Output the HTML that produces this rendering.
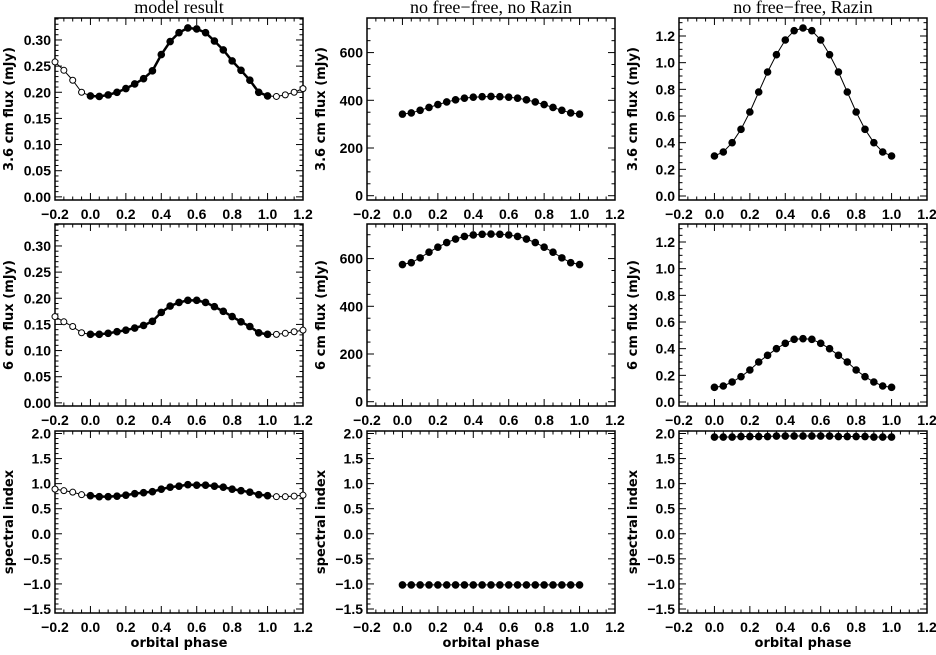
<!DOCTYPE html>
<html><head><meta charset="utf-8"><style>
body{margin:0;background:#fff;width:936px;height:650px;overflow:hidden}
svg text{font-family:"Liberation Sans",sans-serif;font-weight:bold;fill:#000}
</style></head><body>
<svg id="fig" width="936" height="650" viewBox="0 0 936 650" xmlns="http://www.w3.org/2000/svg"></svg>
<script>
// ---- data ----
const phaseFull = [-0.2,-0.15,-0.1,-0.05,0,0.05,0.1,0.15,0.2,0.25,0.3,0.35,0.4,0.45,0.5,0.55,0.6,0.65,0.7,0.75,0.8,0.85,0.9,0.95,1.0,1.05,1.1,1.15,1.2];
const phase = [0,0.05,0.1,0.15,0.2,0.25,0.3,0.35,0.4,0.45,0.5,0.55,0.6,0.65,0.7,0.75,0.8,0.85,0.9,0.95,1.0];
const model36 = [0.258,0.242,0.223,0.200,0.193,0.192,0.195,0.200,0.207,0.216,0.226,0.241,0.272,0.297,0.314,0.323,0.321,0.314,0.298,0.281,0.260,0.242,0.223,0.200,0.193,0.192,0.195,0.200,0.207];
const model6 = [0.165,0.155,0.146,0.134,0.131,0.131,0.133,0.136,0.139,0.143,0.148,0.156,0.173,0.185,0.192,0.196,0.196,0.192,0.184,0.175,0.165,0.155,0.146,0.134,0.131,0.131,0.133,0.136,0.139];
const modelIdx = [0.89,0.86,0.83,0.78,0.76,0.74,0.74,0.75,0.77,0.80,0.82,0.84,0.89,0.93,0.95,0.98,0.97,0.97,0.95,0.93,0.89,0.86,0.83,0.78,0.76,0.74,0.74,0.75,0.77];
const noffNoR36 = [342,347,358,370,382,393,402,409,413,415,416,415,413,409,402,393,382,370,358,347,342];
const noffNoR6 = [575,583,603,627,648,667,682,693,699,702,703,702,699,693,682,667,648,627,603,583,575];
const noffNoRIdx = [-1.02,-1.02,-1.02,-1.02,-1.02,-1.02,-1.02,-1.02,-1.02,-1.02,-1.02,-1.02,-1.02,-1.02,-1.02,-1.02,-1.02,-1.02,-1.02,-1.02,-1.02];
const noffR36 = [0.30,0.33,0.40,0.50,0.63,0.78,0.93,1.06,1.17,1.24,1.26,1.24,1.17,1.06,0.93,0.78,0.63,0.50,0.40,0.33,0.30];
const noffR6 = [0.11,0.12,0.15,0.19,0.24,0.30,0.35,0.40,0.44,0.47,0.475,0.47,0.44,0.40,0.35,0.30,0.24,0.19,0.15,0.12,0.11];
const noffRIdx = [1.93,1.93,1.93,1.94,1.94,1.94,1.94,1.95,1.95,1.95,1.95,1.95,1.95,1.95,1.94,1.94,1.94,1.94,1.93,1.93,1.93];
const xTicks = ["-0.2","0.0","0.2","0.4","0.6","0.8","1.0","1.2"];
const yTicksModel = ["0.00","0.05","0.10","0.15","0.20","0.25","0.30"];
const yTicksMjy = ["0","200","400","600"];
const yTicksRazin = ["0.0","0.2","0.4","0.6","0.8","1.0","1.2"];
const yTicksIdx = ["-1.5","-1.0","-0.5","0.0","0.5","1.0","1.5","2.0"];
const titles = ["model result","no free\u2212free, no Razin","no free\u2212free, Razin"];

const NS="http://www.w3.org/2000/svg";
const svg=document.getElementById('fig');
function mk(tag,attrs,parent){const e=document.createElementNS(NS,tag);for(const k in attrs)e.setAttribute(k,attrs[k]);(parent||svg).appendChild(e);return e;}
const colX=[55,367,679], W=248, rowY=[18,224,431], H=182;
const yr=[[-0.006,0.342],[-18,745],[-0.03,1.335]];
const yrIdx=[-1.58,2.05];

function panel(c,r,ymin,ymax,yt,yminor,ylabel,data){
  const g=mk('g',{});
  
  
  const x0=colX[c],y0=rowY[r];
  const sx=v=>x0+(v+0.2)/1.4*W;
  const sy=v=>y0+H-(v-ymin)/(ymax-ymin)*H;
  mk('rect',{x:x0,y:y0,width:W,height:H,fill:'none',stroke:'#000','stroke-width':1.5},g);
  for(let i=0;i<=28;i++){const v=-0.2+i*0.05;const X=sx(v);const L=(i%4==0)?7:3.5;
    mk('line',{x1:X,y1:y0+H,x2:X,y2:y0+H-L,stroke:'#000'},g);
    mk('line',{x1:X,y1:y0,x2:X,y2:y0+L,stroke:'#000'},g);}
  xTicks.forEach(t=>{const v=parseFloat(t);const tx=mk('text',{x:sx(v),y:y0+H+19,'font-size':14,'text-anchor':'middle'},g);tx.textContent=t.replace('-','\u2212');
    });
  const step=parseFloat(yt[1])-parseFloat(yt[0]);const ms=step/yminor;
  for(let v=parseFloat(yt[0])-step;v<=ymax+1e-9;v+=ms){if(v<ymin-1e-9)continue;const Y=sy(v);
    const k=Math.round((v-parseFloat(yt[0]))/ms);const L=(k%yminor==0)?7:3.5;
    mk('line',{x1:x0,y1:Y,x2:x0+L,y2:Y,stroke:'#000'},g);
    mk('line',{x1:x0+W,y1:Y,x2:x0+W-L,y2:Y,stroke:'#000'},g);}
  yt.forEach(t=>{const v=parseFloat(t);const tx=mk('text',{x:x0-4,y:sy(v)+5,'font-size':14,'text-anchor':'end'},g);tx.textContent=t.replace('-','\u2212');
    });
  const yl=mk('text',{x:0,y:0,'font-size':13,'text-anchor':'middle',style:'font-family:"DejaVu Sans",sans-serif',transform:`translate(${x0-42},${y0+H/2}) rotate(-90)`},g);yl.textContent=ylabel;
  
  if(r==0){const tt=mk('text',{x:x0+W/2,y:13,'font-size':18,'text-anchor':'middle',style:'font-family:"Liberation Serif",serif;font-weight:normal'},g);tt.textContent=titles[c];
    }
  if(r==2){const xl=mk('text',{x:x0+W/2,y:y0+H+34,'font-size':13,'text-anchor':'middle',style:'font-family:"DejaVu Sans",sans-serif'},g);xl.textContent='orbital phase';
    }
  const xs=data.x, ys=data.y;
  mk('polyline',{points:xs.map((v,i)=>sx(v)+','+sy(ys[i])).join(' '),fill:'none',stroke:'#000','stroke-width':1},g);
  if(data.full){
    const inner=xs.map((v,i)=>[v,ys[i]]).filter(p=>p[0]>=-1e-9&&p[0]<=1+1e-9);
    mk('polyline',{points:inner.map(p=>sx(p[0])+','+sy(p[1])).join(' '),fill:'none',stroke:'#000','stroke-width':2.5},g);
  }
  xs.forEach((v,i)=>{const hollow=v<-1e-9||v>1+1e-9;
    const m=mk('circle',{cx:sx(v),cy:sy(ys[i]),r:hollow?3:3.3,fill:hollow?'#fff':'#000',stroke:'#000','stroke-width':1},g);
    });
}
panel(0,0,yr[0][0],yr[0][1],yTicksModel,5,'3.6 cm flux (mJy)',{x:phaseFull,y:model36,full:true});
panel(0,1,yr[0][0],yr[0][1],yTicksModel,5,'6 cm flux (mJy)',{x:phaseFull,y:model6,full:true});
panel(0,2,yrIdx[0],yrIdx[1],yTicksIdx,5,'spectral index',{x:phaseFull,y:modelIdx,full:true});
panel(1,0,yr[1][0],yr[1][1],yTicksMjy,4,'3.6 cm flux (mJy)',{x:phase,y:noffNoR36});
panel(1,1,yr[1][0],yr[1][1],yTicksMjy,4,'6 cm flux (mJy)',{x:phase,y:noffNoR6});
panel(1,2,yrIdx[0],yrIdx[1],yTicksIdx,5,'spectral index',{x:phase,y:noffNoRIdx});
panel(2,0,yr[2][0],yr[2][1],yTicksRazin,4,'3.6 cm flux (mJy)',{x:phase,y:noffR36});
panel(2,1,yr[2][0],yr[2][1],yTicksRazin,4,'6 cm flux (mJy)',{x:phase,y:noffR6});
panel(2,2,yrIdx[0],yrIdx[1],yTicksIdx,5,'spectral index',{x:phase,y:noffRIdx});
</script>
</body></html>
